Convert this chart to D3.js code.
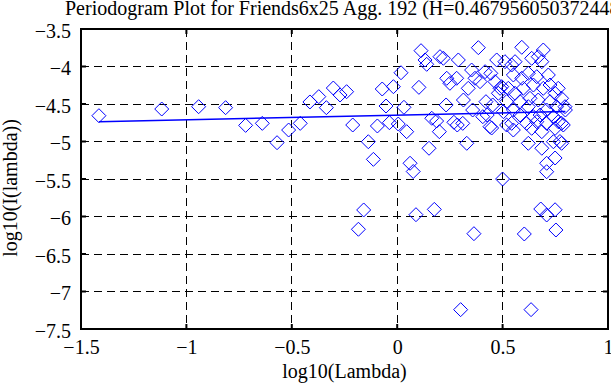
<!DOCTYPE html>
<html><head><meta charset="utf-8">
<script src="https://cdn.jsdelivr.net/npm/d3@7"></script>
<style>body{margin:0;background:#fff}svg{display:block}text{font-family:"Liberation Serif","Times New Roman",serif;fill:#000}</style>
</head><body><svg id="c" width="611" height="385"></svg>
<script>
const titleText = "Periodogram Plot for Friends6x25 Agg. 192 (H=0.467956050372448)";
const xLabel = "log10(Lambda)";
const yLabel = "log10(I(lambda))";
const xTicks = [-1.5, -1, -0.5, 0, 0.5, 1];
const yTicks = [-3.5, -4, -4.5, -5, -5.5, -6, -6.5, -7, -7.5];
const xGrid = [-1, -0.5, 0, 0.5];
const yGrid = [-4, -4.5, -5, -5.5, -6, -6.5, -7];
const logLambda = [-1.415,-1.117,-0.942,-0.814,-0.719,-0.640,-0.570,-0.515,-0.460,-0.414,-0.372,-0.336,-0.303,-0.271,-0.240,-0.211,-0.184,-0.159,-0.137,-0.113,-0.094,-0.071,-0.053,-0.037,-0.018,0.005,0.018,0.032,0.045,0.061,0.076,0.089,0.103,0.113,0.132,0.140,0.151,0.164,0.176,0.187,0.200,0.203,0.219,0.235,0.232,0.250,0.269,0.282,0.290,0.285,0.301,0.311,0.314,0.330,0.337,0.353,0.358,0.364,0.369,0.385,0.393,0.406,0.417,0.421,0.427,0.440,0.444,0.448,0.453,0.464,0.472,0.480,0.488,0.500,0.504,0.511,0.519,0.496,0.527,0.519,0.543,0.551,0.559,0.559,0.551,0.543,0.551,0.583,0.583,0.591,0.591,0.598,0.603,0.614,0.622,0.622,0.622,0.630,0.635,0.638,0.638,0.646,0.646,0.662,0.662,0.669,0.669,0.678,0.681,0.686,0.686,0.686,0.693,0.693,0.709,0.709,0.709,0.709,0.709,0.717,0.725,0.725,0.741,0.741,0.749,0.749,0.749,0.749,0.753,0.756,0.764,0.764,0.772,0.780,0.780,0.780,0.788,0.796,0.798];
const logI = [-4.656,-4.567,-4.536,-4.549,-4.785,-4.758,-5.016,-4.847,-4.758,-4.473,-4.402,-4.549,-4.287,-4.380,-4.336,-4.780,-6.170,-5.913,-5.003,-5.238,-4.793,-4.300,-4.527,-4.749,-4.269,-4.767,-4.083,-4.544,-4.869,-5.290,-5.400,-5.976,-4.278,-3.789,-3.913,-3.971,-5.090,-4.690,-5.905,-4.727,-4.869,-3.869,-3.890,-4.157,-4.513,-4.224,-4.744,-4.157,-3.913,-4.780,-7.242,-4.758,-4.447,-5.024,-4.291,-4.047,-4.580,-6.229,-4.157,-3.749,-4.202,-4.669,-4.069,-4.469,-4.647,-4.803,-4.091,-4.820,-4.513,-4.202,-3.913,-4.357,-4.291,-5.500,-4.602,-3.936,-4.780,-4.269,-4.291,-4.469,-3.980,-4.113,-3.936,-4.357,-4.580,-4.758,-4.847,-4.469,-4.647,-3.744,-4.157,-4.291,-6.233,-4.758,-4.091,-4.536,-5.024,-4.424,-7.242,-3.891,-4.824,-4.247,-4.669,-4.136,-4.736,-3.869,-4.447,-4.647,-5.900,-3.936,-4.869,-5.090,-3.780,-4.291,-4.580,-4.758,-5.290,-5.403,-5.980,-4.113,-4.247,-4.469,-4.669,-5.003,-4.357,-4.824,-5.910,-5.220,-6.180,-4.536,-4.291,-4.736,-5.000,-4.424,-4.758,-5.024,-4.780,-4.536,-4.580];
const fitX = [-1.415, 0.798];
const fitY = [-4.736, -4.600];

const svg = d3.select("#c");
const L = 81, R = 608, T = 29, B = 329;
const x = d3.scaleLinear().domain([-1.5, 1]).range([L, R]);
const y = d3.scaleLinear().domain([-7.5, -3.5]).range([B, T]);

// grid
svg.append("g").selectAll("line").data(xGrid).join("line")
  .attr("x1", d => x(d)).attr("x2", d => x(d)).attr("y1", T).attr("y2", B)
  .attr("stroke", "#000").attr("stroke-width", 1).attr("stroke-dasharray", "8,5").attr("shape-rendering","crispEdges");
svg.append("g").selectAll("line").data(yGrid).join("line")
  .attr("y1", d => y(d)).attr("y2", d => y(d)).attr("x1", L).attr("x2", R)
  .attr("stroke", "#000").attr("stroke-width", 1).attr("stroke-dasharray", "8,5").attr("shape-rendering","crispEdges");

// points
const pts = logLambda.map((v, i) => [v, logI[i]]);
const r = 7;
svg.append("g").selectAll("path").data(pts).join("path")
  .attr("d", d => { const cx = x(d[0]), cy = y(d[1]); return `M${cx},${cy-r}L${cx+r},${cy}L${cx},${cy+r}L${cx-r},${cy}Z`; })
  .attr("fill", "none").attr("stroke", "#0000ff").attr("stroke-width", 1);

// fit line
svg.append("path").datum(fitX.map((v, i) => [v, fitY[i]]))
  .attr("d", d3.line().x(d => x(d[0])).y(d => y(d[1])))
  .attr("stroke", "#0000ff").attr("stroke-width", 1.5).attr("fill", "none");

// axes (ticks inward)
const tl = 5;
const axB = d3.axisBottom(x).tickValues(xTicks).tickSize(0).tickFormat(d => d3.format("")(d).replace("-", "\u2212"));
const axL = d3.axisLeft(y).tickValues(yTicks).tickSize(0).tickFormat(d => d3.format("")(d).replace("-", "\u2212"));
const gb = svg.append("g").attr("transform", `translate(0,${B})`).call(axB);
gb.select(".domain").remove();
gb.selectAll("text").attr("y", 25).attr("dy", 0).style("font-size", "20px").style("font-family", "Liberation Serif");
const gl = svg.append("g").attr("transform", `translate(${L},0)`).call(axL);
gl.select(".domain").remove();
gl.selectAll("text").attr("x", -10).attr("dy", 8).style("font-size", "20px").style("font-family", "Liberation Serif");

// inward tick marks on all four sides
const tk = svg.append("g").attr("stroke", "#000").attr("stroke-width", 2);
xTicks.slice(1, -1).forEach(v => {
  tk.append("line").attr("x1", x(v)).attr("x2", x(v)).attr("y1", B).attr("y2", B - tl);
  tk.append("line").attr("x1", x(v)).attr("x2", x(v)).attr("y1", T).attr("y2", T + tl);
});
yTicks.slice(1, -1).forEach(v => {
  tk.append("line").attr("y1", y(v)).attr("y2", y(v)).attr("x1", L).attr("x2", L + tl);
  tk.append("line").attr("y1", y(v)).attr("y2", y(v)).attr("x1", R).attr("x2", R - tl);
});

// frame
svg.append("rect").attr("x", L).attr("y", T).attr("width", R - L).attr("height", B - T)
  .attr("fill", "none").attr("stroke", "#000").attr("stroke-width", 2);

// labels
svg.append("text").attr("x", 65).attr("y", 15).style("font-size", "20px").text(titleText);
svg.append("text").attr("x", (L + R) / 2).attr("y", 378).attr("text-anchor", "middle").style("font-size", "20px").text(xLabel);
svg.append("text").attr("transform", "translate(17,188) rotate(-90)").attr("text-anchor", "middle").style("font-size", "20px").text(yLabel);
</script></body></html>
